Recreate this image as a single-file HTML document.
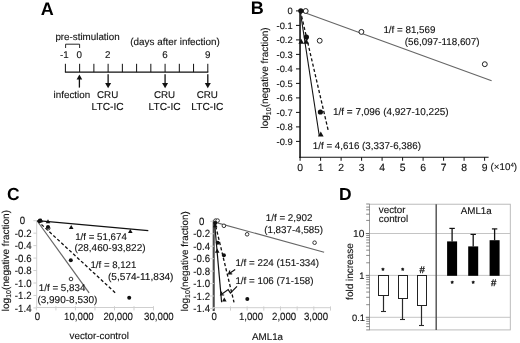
<!DOCTYPE html>
<html><head><meta charset="utf-8"><title>Figure</title>
<style>
html,body{margin:0;padding:0;background:#fff;}
body{width:520px;height:343px;overflow:hidden;}
svg{display:block;}
text{font-family:"Liberation Sans",sans-serif;fill:#111;stroke:#111;stroke-width:0.12px;text-rendering:geometricPrecision;}
.t{font-size:9.8px;}
.p{font-size:18px;font-weight:bold;fill:#000;stroke:none;}
.b{font-size:10.4px;}
.c{font-size:10.5px;}
</style></head><body>
<svg width="520" height="343" viewBox="0 0 520 343">
<rect width="520" height="343" fill="#fff"/>
<!-- Panel A -->
<text class="p" x="40.8" y="14.6">A</text>
<text class="t" x="55.4" y="40">pre-stimulation</text>
<text class="t" x="130.3" y="45" style="font-size:9.9px">(days after infection)</text>
<path d="M65.6,48V44.2H79.6V48" fill="none" stroke="#111" stroke-width="0.9"/>
<text class="t" x="60" y="57.7">-1</text>
<text class="t" x="76.6" y="57.7">0</text>
<text class="t" x="104.9" y="57.7">2</text>
<text class="t" x="162.3" y="57.7">6</text>
<text class="t" x="205" y="57.7">9</text>
<line x1="64.9" y1="72.1" x2="208.3" y2="72.1" stroke="#111" stroke-width="1.1"/>
<line x1="65.4" y1="63.8" x2="65.4" y2="72.1" stroke="#111" stroke-width="1"/>
<line x1="79.64" y1="63.8" x2="79.64" y2="72.1" stroke="#111" stroke-width="1"/>
<line x1="93.88" y1="63.8" x2="93.88" y2="72.1" stroke="#111" stroke-width="1"/>
<line x1="108.12" y1="63.8" x2="108.12" y2="72.1" stroke="#111" stroke-width="1"/>
<line x1="122.36" y1="63.8" x2="122.36" y2="72.1" stroke="#111" stroke-width="1"/>
<line x1="136.6" y1="63.8" x2="136.6" y2="72.1" stroke="#111" stroke-width="1"/>
<line x1="150.84" y1="63.8" x2="150.84" y2="72.1" stroke="#111" stroke-width="1"/>
<line x1="165.08" y1="63.8" x2="165.08" y2="72.1" stroke="#111" stroke-width="1"/>
<line x1="179.32" y1="63.8" x2="179.32" y2="72.1" stroke="#111" stroke-width="1"/>
<line x1="193.56" y1="63.8" x2="193.56" y2="72.1" stroke="#111" stroke-width="1"/>
<line x1="207.8" y1="63.8" x2="207.8" y2="72.1" stroke="#111" stroke-width="1"/>
<line x1="79.4" y1="77.5" x2="79.4" y2="87.6" stroke="#111" stroke-width="1.3"/>
<path d="M76.60000000000001,79.5L82.2,79.5L79.4,74.5Z" fill="#111"/>
<line x1="108.12" y1="74.2" x2="108.12" y2="85.3" stroke="#111" stroke-width="1.3"/>
<path d="M105.12,82.9L111.12,82.9L108.12,88.3Z" fill="#111"/>
<line x1="165.08" y1="74.2" x2="165.08" y2="85.3" stroke="#111" stroke-width="1.3"/>
<path d="M162.08,82.9L168.08,82.9L165.08,88.3Z" fill="#111"/>
<line x1="207.8" y1="74.2" x2="207.8" y2="85.3" stroke="#111" stroke-width="1.3"/>
<path d="M204.8,82.9L210.8,82.9L207.8,88.3Z" fill="#111"/>
<text class="t" x="53.6" y="98.2">infection</text>
<text class="t" x="107.62" y="98.2" text-anchor="middle">CRU</text>
<text class="t" x="107.62" y="110.2" text-anchor="middle" style="font-size:10.2px">LTC-IC</text>
<text class="t" x="164.58" y="98.2" text-anchor="middle">CRU</text>
<text class="t" x="164.58" y="110.2" text-anchor="middle" style="font-size:10.2px">LTC-IC</text>
<text class="t" x="207.3" y="98.2" text-anchor="middle">CRU</text>
<text class="t" x="207.3" y="110.2" text-anchor="middle" style="font-size:10.2px">LTC-IC</text>
<!-- Panel B -->
<text class="p" x="250.8" y="14.4">B</text>
<line x1="300.8" y1="11.3" x2="491.6" y2="80.8" stroke="#666" stroke-width="1.15"/>
<line x1="300.4" y1="11" x2="328.3" y2="130.8" stroke="#111" stroke-width="1.3" stroke-dasharray="3.2,2.2"/>
<line x1="300.2" y1="11" x2="319.3" y2="136" stroke="#111" stroke-width="1.1"/>
<line x1="300.05" y1="10" x2="300.05" y2="157.8" stroke="#222" stroke-width="1.7"/>
<line x1="299.2" y1="157.2" x2="488.6" y2="157.2" stroke="#111" stroke-width="1.1"/>
<line x1="296" y1="10.9" x2="300" y2="10.9" stroke="#111" stroke-width="1"/>
<text class="t" x="292.7" y="14.2" text-anchor="end" style="font-size:9.4px">0</text>
<line x1="296" y1="25.4" x2="300" y2="25.4" stroke="#111" stroke-width="1"/>
<text class="t" x="292.7" y="28.7" text-anchor="end" style="font-size:9.4px">-0.1</text>
<line x1="296" y1="39.9" x2="300" y2="39.9" stroke="#111" stroke-width="1"/>
<text class="t" x="292.7" y="43.2" text-anchor="end" style="font-size:9.4px">-0.2</text>
<line x1="296" y1="54.4" x2="300" y2="54.4" stroke="#111" stroke-width="1"/>
<text class="t" x="292.7" y="57.7" text-anchor="end" style="font-size:9.4px">-0.3</text>
<line x1="296" y1="68.9" x2="300" y2="68.9" stroke="#111" stroke-width="1"/>
<text class="t" x="292.7" y="72.2" text-anchor="end" style="font-size:9.4px">-0.4</text>
<line x1="296" y1="83.4" x2="300" y2="83.4" stroke="#111" stroke-width="1"/>
<text class="t" x="292.7" y="86.7" text-anchor="end" style="font-size:9.4px">-0.5</text>
<line x1="296" y1="97.9" x2="300" y2="97.9" stroke="#111" stroke-width="1"/>
<text class="t" x="292.7" y="101.2" text-anchor="end" style="font-size:9.4px">-0.6</text>
<line x1="296" y1="112.4" x2="300" y2="112.4" stroke="#111" stroke-width="1"/>
<text class="t" x="292.7" y="115.7" text-anchor="end" style="font-size:9.4px">-0.7</text>
<line x1="296" y1="126.9" x2="300" y2="126.9" stroke="#111" stroke-width="1"/>
<text class="t" x="292.7" y="130.2" text-anchor="end" style="font-size:9.4px">-0.8</text>
<line x1="296" y1="141.4" x2="300" y2="141.4" stroke="#111" stroke-width="1"/>
<text class="t" x="292.7" y="144.7" text-anchor="end" style="font-size:9.4px">-0.9</text>
<line x1="300.1" y1="157.2" x2="300.1" y2="160.8" stroke="#111" stroke-width="1"/>
<text class="t b" x="300.1" y="170.6" text-anchor="middle">0</text>
<line x1="320.6" y1="157.2" x2="320.6" y2="160.8" stroke="#111" stroke-width="1"/>
<text class="t b" x="320.6" y="170.6" text-anchor="middle">1</text>
<line x1="341.1" y1="157.2" x2="341.1" y2="160.8" stroke="#111" stroke-width="1"/>
<text class="t b" x="341.1" y="170.6" text-anchor="middle">2</text>
<line x1="361.6" y1="157.2" x2="361.6" y2="160.8" stroke="#111" stroke-width="1"/>
<text class="t b" x="361.6" y="170.6" text-anchor="middle">3</text>
<line x1="382.1" y1="157.2" x2="382.1" y2="160.8" stroke="#111" stroke-width="1"/>
<text class="t b" x="382.1" y="170.6" text-anchor="middle">4</text>
<line x1="402.6" y1="157.2" x2="402.6" y2="160.8" stroke="#111" stroke-width="1"/>
<text class="t b" x="402.6" y="170.6" text-anchor="middle">5</text>
<line x1="423.1" y1="157.2" x2="423.1" y2="160.8" stroke="#111" stroke-width="1"/>
<text class="t b" x="423.1" y="170.6" text-anchor="middle">6</text>
<line x1="443.6" y1="157.2" x2="443.6" y2="160.8" stroke="#111" stroke-width="1"/>
<text class="t b" x="443.6" y="170.6" text-anchor="middle">7</text>
<line x1="464.1" y1="157.2" x2="464.1" y2="160.8" stroke="#111" stroke-width="1"/>
<text class="t b" x="464.1" y="170.6" text-anchor="middle">8</text>
<line x1="484.6" y1="157.2" x2="484.6" y2="160.8" stroke="#111" stroke-width="1"/>
<text class="t b" x="484.6" y="170.6" text-anchor="middle">9</text>
<text class="t" x="490.6" y="170">(×10<tspan font-size="6" dy="-3.2">4</tspan><tspan dy="3.2">)</tspan></text>
<text class="t" style="font-size:10px" transform="translate(267.5,128.5) rotate(-90)">log<tspan font-size="7" dy="3.4">10</tspan><tspan dy="-3.4">(negative fraction)</tspan></text>
<circle cx="305.7" cy="11" r="2.45" fill="#fff" stroke="#222" stroke-width="1.0"/>
<circle cx="361.4" cy="31.9" r="2.45" fill="#fff" stroke="#222" stroke-width="1.0"/>
<circle cx="319.7" cy="40.7" r="2.45" fill="#fff" stroke="#222" stroke-width="1.0"/>
<circle cx="484.8" cy="64.2" r="2.45" fill="#fff" stroke="#222" stroke-width="1.0"/>
<circle cx="300.8" cy="10.8" r="2.6" fill="#111"/>
<circle cx="306.4" cy="37" r="2.6" fill="#111"/>
<circle cx="320.4" cy="112" r="2.6" fill="#111"/>
<path d="M298.4,43.74L304.0,43.74L301.2,38.7Z" fill="#111"/>
<path d="M303.4,43.84L309.0,43.84L306.2,38.800000000000004Z" fill="#111"/>
<path d="M318.0,136.54000000000002L323.6,136.54000000000002L320.8,131.5Z" fill="#111"/>
<text class="t" x="383.4" y="32.6">1/f = 81,569</text>
<text class="t" x="404.8" y="44.7" style="font-size:9.85px">(56,097-118,607)</text>
<text class="t" x="333" y="114.9" style="font-size:9.97px">1/f = 7,096 (4,927-10,225)</text>
<text class="t" x="312.8" y="149.3">1/f = 4,616 (3,337-6,386)</text>
<!-- Panel C -->
<text class="p" x="6.9" y="200" style="font-size:17.4px">C</text>
<line x1="36.7" y1="220" x2="36.7" y2="308" stroke="#cfcfcf" stroke-width="1"/>
<line x1="36.2" y1="307.5" x2="153.6" y2="307.5" stroke="#cfcfcf" stroke-width="1"/>
<line x1="33.4" y1="220.7" x2="37" y2="220.7" stroke="#cfcfcf" stroke-width="1"/>
<text class="t c" transform="translate(25.2,224.4) scale(0.92,1)" text-anchor="end">0</text>
<line x1="33.4" y1="233.16" x2="37" y2="233.16" stroke="#cfcfcf" stroke-width="1"/>
<text class="t c" transform="translate(31.5,236.86) scale(0.92,1)" text-anchor="end">-0.2</text>
<line x1="33.4" y1="245.62" x2="37" y2="245.62" stroke="#cfcfcf" stroke-width="1"/>
<text class="t c" transform="translate(31.5,249.32) scale(0.92,1)" text-anchor="end">-0.4</text>
<line x1="33.4" y1="258.08" x2="37" y2="258.08" stroke="#cfcfcf" stroke-width="1"/>
<text class="t c" transform="translate(31.5,261.78) scale(0.92,1)" text-anchor="end">-0.6</text>
<line x1="33.4" y1="270.54" x2="37" y2="270.54" stroke="#cfcfcf" stroke-width="1"/>
<text class="t c" transform="translate(31.5,274.24) scale(0.92,1)" text-anchor="end">-0.8</text>
<line x1="33.4" y1="283.0" x2="37" y2="283.0" stroke="#cfcfcf" stroke-width="1"/>
<text class="t c" transform="translate(31.5,286.7) scale(0.92,1)" text-anchor="end">-1.0</text>
<line x1="33.4" y1="295.46" x2="37" y2="295.46" stroke="#cfcfcf" stroke-width="1"/>
<text class="t c" transform="translate(31.5,299.16) scale(0.92,1)" text-anchor="end">-1.2</text>
<line x1="33.4" y1="307.92" x2="37" y2="307.92" stroke="#cfcfcf" stroke-width="1"/>
<text class="t c" transform="translate(31.5,311.62) scale(0.92,1)" text-anchor="end">-1.4</text>
<line x1="36.4" y1="306.2" x2="36.4" y2="310.4" stroke="#cfcfcf" stroke-width="1"/>
<line x1="55.92" y1="306.2" x2="55.92" y2="310.4" stroke="#cfcfcf" stroke-width="1"/>
<line x1="75.44" y1="306.2" x2="75.44" y2="310.4" stroke="#cfcfcf" stroke-width="1"/>
<line x1="94.96" y1="306.2" x2="94.96" y2="310.4" stroke="#cfcfcf" stroke-width="1"/>
<line x1="114.48" y1="306.2" x2="114.48" y2="310.4" stroke="#cfcfcf" stroke-width="1"/>
<line x1="134.0" y1="306.2" x2="134.0" y2="310.4" stroke="#cfcfcf" stroke-width="1"/>
<line x1="153.52" y1="306.2" x2="153.52" y2="310.4" stroke="#cfcfcf" stroke-width="1"/>
<text class="t c" transform="translate(37.5,320.4) scale(0.92,1)" text-anchor="middle">0</text>
<text class="t c" transform="translate(78.9,320.4) scale(0.92,1)" text-anchor="middle">10,000</text>
<text class="t c" transform="translate(118.2,320.4) scale(0.92,1)" text-anchor="middle">20,000</text>
<text class="t c" transform="translate(158.9,320.4) scale(0.92,1)" text-anchor="middle">30,000</text>
<text class="t" x="69.6" y="338.6">vector-control</text>
<text class="t" style="font-size:10px" transform="translate(8.7,311.2) rotate(-90)">log<tspan font-size="7" dy="2.5">10</tspan><tspan dy="-2.5">(negative fraction)</tspan></text>
<line x1="37.2" y1="221" x2="89.1" y2="292.9" stroke="#666" stroke-width="1.2"/>
<line x1="37.5" y1="220.8" x2="116.7" y2="294.1" stroke="#111" stroke-width="1.3" stroke-dasharray="3.2,2.2"/>
<line x1="37.5" y1="220.6" x2="148.3" y2="230.6" stroke="#111" stroke-width="1.3"/>
<circle cx="48.2" cy="228.2" r="1.8" fill="#fff" stroke="#222" stroke-width="0.9"/>
<circle cx="71" cy="279" r="1.8" fill="#fff" stroke="#222" stroke-width="0.9"/>
<circle cx="40" cy="220.7" r="2.2" fill="#111"/>
<circle cx="48" cy="227" r="2.0" fill="#111"/>
<circle cx="70.8" cy="260.2" r="2.0" fill="#111"/>
<circle cx="129.2" cy="297.7" r="2.0" fill="#111"/>
<path d="M38.7,222.34L43.3,222.34L41,218.2Z" fill="#111"/>
<path d="M45.7,223.34L50.3,223.34L48,219.2Z" fill="#111"/>
<path d="M68.9,229.04L73.5,229.04L71.2,224.89999999999998Z" fill="#111"/>
<path d="M128.0,233.04L132.60000000000002,233.04L130.3,228.89999999999998Z" fill="#111"/>
<text class="t" x="75.2" y="239.6" style="font-size:9.72px">1/f = 51,674</text>
<text class="t" x="74.4" y="251.4" style="font-size:10.0px">(28,460-93,822)</text>
<text class="t" x="90.5" y="268.3" style="font-size:9.65px">1/f = 8,121</text>
<text class="t" x="108" y="279.8" style="font-size:10.1px">(5,574-11,834)</text>
<text class="t" x="38.8" y="290.9">1/f = 5,834</text>
<text class="t" x="37.4" y="302.7" style="font-size:10.0px">(3,990-8,530)</text>
<line x1="213.7" y1="220.5" x2="213.7" y2="311" stroke="#4a4a4a" stroke-width="2.1"/>
<line x1="213" y1="307.7" x2="331" y2="307.7" stroke="#cfcfcf" stroke-width="1"/>
<line x1="210.2" y1="221.3" x2="213.9" y2="221.3" stroke="#cfcfcf" stroke-width="1"/>
<text class="t c" transform="translate(204.5,225.0) scale(0.92,1)" text-anchor="end">0</text>
<line x1="210.2" y1="233.75" x2="213.9" y2="233.75" stroke="#cfcfcf" stroke-width="1"/>
<text class="t c" transform="translate(210,237.45) scale(0.92,1)" text-anchor="end">-0.2</text>
<line x1="210.2" y1="246.2" x2="213.9" y2="246.2" stroke="#cfcfcf" stroke-width="1"/>
<text class="t c" transform="translate(210,249.9) scale(0.92,1)" text-anchor="end">-0.4</text>
<line x1="210.2" y1="258.65" x2="213.9" y2="258.65" stroke="#cfcfcf" stroke-width="1"/>
<text class="t c" transform="translate(210,262.35) scale(0.92,1)" text-anchor="end">-0.6</text>
<line x1="210.2" y1="271.1" x2="213.9" y2="271.1" stroke="#cfcfcf" stroke-width="1"/>
<text class="t c" transform="translate(210,274.8) scale(0.92,1)" text-anchor="end">-0.8</text>
<line x1="210.2" y1="283.55" x2="213.9" y2="283.55" stroke="#cfcfcf" stroke-width="1"/>
<text class="t c" transform="translate(210,287.25) scale(0.92,1)" text-anchor="end">-1.0</text>
<line x1="210.2" y1="296.0" x2="213.9" y2="296.0" stroke="#cfcfcf" stroke-width="1"/>
<text class="t c" transform="translate(210,299.7) scale(0.92,1)" text-anchor="end">-1.2</text>
<line x1="210.2" y1="308.45" x2="213.9" y2="308.45" stroke="#cfcfcf" stroke-width="1"/>
<text class="t c" transform="translate(210,312.15) scale(0.92,1)" text-anchor="end">-1.4</text>
<line x1="230.47" y1="306.4" x2="230.47" y2="310.6" stroke="#cfcfcf" stroke-width="1"/>
<line x1="247.14" y1="306.4" x2="247.14" y2="310.6" stroke="#cfcfcf" stroke-width="1"/>
<line x1="263.81" y1="306.4" x2="263.81" y2="310.6" stroke="#cfcfcf" stroke-width="1"/>
<line x1="280.48" y1="306.4" x2="280.48" y2="310.6" stroke="#cfcfcf" stroke-width="1"/>
<line x1="297.15" y1="306.4" x2="297.15" y2="310.6" stroke="#cfcfcf" stroke-width="1"/>
<line x1="313.82" y1="306.4" x2="313.82" y2="310.6" stroke="#cfcfcf" stroke-width="1"/>
<line x1="330.49" y1="306.4" x2="330.49" y2="310.6" stroke="#cfcfcf" stroke-width="1"/>
<text class="t c" transform="translate(214.1,320.4) scale(0.92,1)" text-anchor="middle">0</text>
<text class="t c" transform="translate(251,320.4) scale(0.92,1)" text-anchor="middle">1,000</text>
<text class="t c" transform="translate(284.1,320.4) scale(0.92,1)" text-anchor="middle">2,000</text>
<text class="t c" transform="translate(316,320.4) scale(0.92,1)" text-anchor="middle">3,000</text>
<text class="t" x="252" y="339.8">AML1a</text>
<text class="t" style="font-size:9.9px" transform="translate(187.9,311.2) rotate(-90)">log<tspan font-size="7" dy="2.4">10</tspan><tspan dy="-2.4">(negative fraction)</tspan></text>
<line x1="214.5" y1="222.1" x2="324.1" y2="252.2" stroke="#666" stroke-width="1.15"/>
<line x1="214.5" y1="221" x2="234" y2="302.3" stroke="#111" stroke-width="1.3" stroke-dasharray="3.2,2.2"/>
<line x1="214.4" y1="221" x2="221.6" y2="302.3" stroke="#111" stroke-width="1.2"/>
<circle cx="215.6" cy="220.6" r="1.8" fill="#fff" stroke="#222" stroke-width="0.9"/>
<circle cx="217.6" cy="220.6" r="1.8" fill="#fff" stroke="#222" stroke-width="0.9"/>
<circle cx="223.9" cy="225.8" r="1.8" fill="#fff" stroke="#222" stroke-width="0.9"/>
<circle cx="247.1" cy="234.3" r="1.8" fill="#fff" stroke="#222" stroke-width="0.9"/>
<circle cx="314.6" cy="242.7" r="1.8" fill="#fff" stroke="#222" stroke-width="0.9"/>
<circle cx="215.2" cy="223.1" r="2.0" fill="#111"/>
<circle cx="217.7" cy="242.7" r="2.0" fill="#111"/>
<circle cx="223.9" cy="255.2" r="2.0" fill="#111"/>
<circle cx="247.3" cy="298.9" r="2.0" fill="#111"/>
<path d="M212.89999999999998,227.14000000000001L217.5,227.14000000000001L215.2,223.0Z" fill="#111"/>
<path d="M214.89999999999998,252.74L219.5,252.74L217.2,248.6Z" fill="#111"/>
<path d="M222.0,301.53999999999996L226.60000000000002,301.53999999999996L224.3,297.4Z" fill="#111"/>
<path d="M235.2,269.5L228.6,273.9M229.9,270.5L228.6,273.9L232.2,273.9" fill="none" stroke="#111" stroke-width="1.2" stroke-linejoin="miter"/>
<path d="M237,286.3L230.4,293.1L228.2,289.6L220.6,295M221.8,291.6L220.6,295L224.2,295" fill="none" stroke="#111" stroke-width="1.2" stroke-linejoin="miter"/>
<text class="t" x="265.8" y="221.3">1/f = 2,902</text>
<text class="t" x="264.2" y="233.1">(1,837-4,585)</text>
<text class="t" x="235.4" y="265.8">1/f = 224 (151-334)</text>
<text class="t" x="235.4" y="284.1">1/f = 106 (71-158)</text>
<!-- Panel D -->
<text class="p" x="339.1" y="199.9" style="font-size:17.4px">D</text>
<rect x="369.5" y="204.21" width="140.8" height="125.7" fill="none" stroke="#b4b4b4" stroke-width="0.9"/>
<line x1="369.5" y1="204.21" x2="369.5" y2="329.91" stroke="#999" stroke-width="0.9"/>
<line x1="369.5" y1="233.5" x2="510.3" y2="233.5" stroke="#bdbdbd" stroke-width="0.9"/>
<line x1="365.8" y1="233.5" x2="369.5" y2="233.5" stroke="#444" stroke-width="0.8"/>
<line x1="369.5" y1="275.4" x2="510.3" y2="275.4" stroke="#bdbdbd" stroke-width="0.9"/>
<line x1="365.8" y1="275.4" x2="369.5" y2="275.4" stroke="#444" stroke-width="0.8"/>
<line x1="369.5" y1="317.3" x2="510.3" y2="317.3" stroke="#bdbdbd" stroke-width="0.9"/>
<line x1="365.8" y1="317.3" x2="369.5" y2="317.3" stroke="#444" stroke-width="0.8"/>
<line x1="366.2" y1="329.91" x2="369.5" y2="329.91" stroke="#555" stroke-width="0.7"/>
<line x1="366.2" y1="326.6" x2="369.5" y2="326.6" stroke="#555" stroke-width="0.7"/>
<line x1="366.2" y1="323.79" x2="369.5" y2="323.79" stroke="#555" stroke-width="0.7"/>
<line x1="366.2" y1="321.36" x2="369.5" y2="321.36" stroke="#555" stroke-width="0.7"/>
<line x1="366.2" y1="319.22" x2="369.5" y2="319.22" stroke="#555" stroke-width="0.7"/>
<line x1="366.2" y1="304.69" x2="369.5" y2="304.69" stroke="#555" stroke-width="0.7"/>
<line x1="366.2" y1="297.31" x2="369.5" y2="297.31" stroke="#555" stroke-width="0.7"/>
<line x1="366.2" y1="292.07" x2="369.5" y2="292.07" stroke="#555" stroke-width="0.7"/>
<line x1="366.2" y1="288.01" x2="369.5" y2="288.01" stroke="#555" stroke-width="0.7"/>
<line x1="366.2" y1="284.7" x2="369.5" y2="284.7" stroke="#555" stroke-width="0.7"/>
<line x1="366.2" y1="281.89" x2="369.5" y2="281.89" stroke="#555" stroke-width="0.7"/>
<line x1="366.2" y1="279.46" x2="369.5" y2="279.46" stroke="#555" stroke-width="0.7"/>
<line x1="366.2" y1="277.32" x2="369.5" y2="277.32" stroke="#555" stroke-width="0.7"/>
<line x1="366.2" y1="262.79" x2="369.5" y2="262.79" stroke="#555" stroke-width="0.7"/>
<line x1="366.2" y1="255.41" x2="369.5" y2="255.41" stroke="#555" stroke-width="0.7"/>
<line x1="366.2" y1="250.17" x2="369.5" y2="250.17" stroke="#555" stroke-width="0.7"/>
<line x1="366.2" y1="246.11" x2="369.5" y2="246.11" stroke="#555" stroke-width="0.7"/>
<line x1="366.2" y1="242.8" x2="369.5" y2="242.8" stroke="#555" stroke-width="0.7"/>
<line x1="366.2" y1="239.99" x2="369.5" y2="239.99" stroke="#555" stroke-width="0.7"/>
<line x1="366.2" y1="237.56" x2="369.5" y2="237.56" stroke="#555" stroke-width="0.7"/>
<line x1="366.2" y1="235.42" x2="369.5" y2="235.42" stroke="#555" stroke-width="0.7"/>
<line x1="366.2" y1="204" x2="369.5" y2="204" stroke="#555" stroke-width="0.7"/>
<line x1="366.2" y1="207.1" x2="369.5" y2="207.1" stroke="#555" stroke-width="0.7"/>
<line x1="366.2" y1="209.8" x2="369.5" y2="209.8" stroke="#555" stroke-width="0.7"/>
<line x1="366.2" y1="214.2" x2="369.5" y2="214.2" stroke="#555" stroke-width="0.7"/>
<line x1="366.2" y1="220.4" x2="369.5" y2="220.4" stroke="#555" stroke-width="0.7"/>
<line x1="436.2" y1="204.21" x2="436.2" y2="329.91" stroke="#4d4d4d" stroke-width="1.4"/>
<text class="t" x="364.4" y="236.8" text-anchor="end" style="font-size:10.2px">10</text>
<text class="t" x="364.4" y="278.7" text-anchor="end" style="font-size:9.3px">1</text>
<text class="t" x="365" y="320.5" text-anchor="end" style="font-size:9.3px">0.1</text>
<text class="t" style="font-size:10px" transform="translate(353,299.9) rotate(-90)">fold increase</text>
<text class="t" x="378.8" y="213.1">vector</text>
<text class="t" x="378.8" y="222.3">control</text>
<text class="t" x="460.7" y="213.8">AML1a</text>
<line x1="383.5" y1="295.5" x2="383.5" y2="311.5" stroke="#2a2a2a" stroke-width="1.2"/>
<line x1="381.0" y1="311.5" x2="386.0" y2="311.5" stroke="#2a2a2a" stroke-width="1.1"/>
<rect x="378.5" y="275.5" width="10" height="20.0" fill="#fff" stroke="#222" stroke-width="1"/>
<line x1="402.5" y1="298.5" x2="402.5" y2="319.5" stroke="#2a2a2a" stroke-width="1.2"/>
<line x1="400.0" y1="319.5" x2="405.0" y2="319.5" stroke="#2a2a2a" stroke-width="1.1"/>
<rect x="398.5" y="275.5" width="9.0" height="23.0" fill="#fff" stroke="#222" stroke-width="1"/>
<line x1="421.5" y1="305.5" x2="421.5" y2="325.5" stroke="#2a2a2a" stroke-width="1.2"/>
<line x1="419.0" y1="325.5" x2="424.0" y2="325.5" stroke="#2a2a2a" stroke-width="1.1"/>
<rect x="417.5" y="275.5" width="9.0" height="30.0" fill="#fff" stroke="#222" stroke-width="1"/>
<line x1="452.1" y1="241.4" x2="452.1" y2="228.4" stroke="#111" stroke-width="1.3"/>
<line x1="449.40000000000003" y1="228.4" x2="454.8" y2="228.4" stroke="#111" stroke-width="1.2"/>
<rect x="447.1" y="241.4" width="10" height="34.4" fill="#000"/>
<line x1="473.2" y1="246.4" x2="473.2" y2="234.4" stroke="#111" stroke-width="1.3"/>
<line x1="470.5" y1="234.4" x2="475.9" y2="234.4" stroke="#111" stroke-width="1.2"/>
<rect x="468.2" y="246.4" width="10" height="29.4" fill="#000"/>
<line x1="494.6" y1="240.2" x2="494.6" y2="228.9" stroke="#111" stroke-width="1.3"/>
<line x1="491.90000000000003" y1="228.9" x2="497.3" y2="228.9" stroke="#111" stroke-width="1.2"/>
<rect x="489.6" y="240.2" width="10" height="35.6" fill="#000"/>
<text class="t" x="382.9" y="272.6" text-anchor="middle" style="font-size:7.4px;stroke-width:0.5px">*</text>
<text class="t" x="402.7" y="272.6" text-anchor="middle" style="font-size:7.4px;stroke-width:0.5px">*</text>
<text class="t" x="422.2" y="272.6" text-anchor="middle" style="font-size:9.6px;stroke-width:0.3px">#</text>
<text class="t" x="452.3" y="286" text-anchor="middle" style="font-size:7.4px;stroke-width:0.5px">*</text>
<text class="t" x="473.2" y="286" text-anchor="middle" style="font-size:7.4px;stroke-width:0.5px">*</text>
<text class="t" x="493.6" y="285.8" text-anchor="middle" style="font-size:9.6px;stroke-width:0.3px">#</text>
</svg>
</body></html>
